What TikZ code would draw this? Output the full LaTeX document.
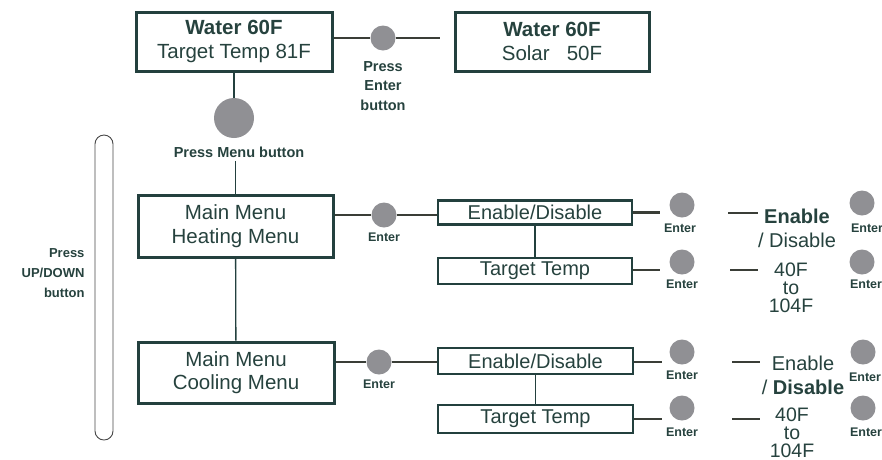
\documentclass[tikz,border=0pt]{standalone}
\usepackage{fontspec}
\setmainfont{Liberation Sans}
\usetikzlibrary{positioning}
\definecolor{boxline}{RGB}{35,64,62}
\definecolor{txtc}{RGB}{38,66,62}
\definecolor{wirec}{RGB}{58,62,55}
\definecolor{btnc}{RGB}{144,144,148}
\definecolor{barc}{RGB}{70,70,70}

\begin{document}
\begin{tikzpicture}[x=1pt, y=-1pt, text=txtc]
\tikzstyle{disp}=[draw=boxline, line width=3pt, align=center, inner sep=0pt,
                  minimum height=59pt, font=\fontsize{20.5}{23.5}\selectfont]
\tikzstyle{menubox}=[draw=boxline, line width=2.8pt, inner sep=0pt,
                     minimum width=194pt, minimum height=24pt, font=\fontsize{20}{23}\selectfont]
\tikzstyle{btn}=[circle, fill=btnc, inner sep=0pt, minimum size=25pt]
\tikzstyle{lbl}=[font=\fontsize{12.5}{15}\selectfont\bfseries]
\tikzstyle{hint}=[align=center, font=\fontsize{14.5}{19.5}\selectfont\bfseries]
\tikzstyle{val}=[align=center, inner sep=0pt, font=\fontsize{20}{24}\selectfont]
\tikzstyle{wire}=[draw=wirec, line width=2.5pt]
\tikzstyle{vline}=[draw=boxline, line width=1.3pt]

\useasboundingbox (0,0) rectangle (882,459);

% top row
\node[disp, minimum width=196pt] (home) at (234,41.5) {\textbf{Water 60F}\\Target Temp 81F};
\node[disp, minimum width=194pt] (solar) at (552,41.5) {\textbf{Water 60F}\\Solar\ \ \ 50F};
\node[btn] (bEnter) at (383,38) {};
\node[hint] (tEnter) at (383,86) {Press\\Enter\\button};
\node[btn, minimum size=40pt] (bMenu) at (234,118) {};
\node[hint] (tMenu) at (239,152) {Press Menu button};

\draw[wire] (home.east |- bEnter) -- (bEnter);
\draw[wire, shorten >=14pt] (bEnter) -- (solar.west |- bEnter);
\draw[vline] (home) -- (bMenu);

% main menus
\node[disp, minimum width=195pt, minimum height=62pt] (heat) at (235.5,226) {Main Menu\\Heating Menu};
\node[disp, minimum width=196pt, minimum height=61pt] (cool) at (236,372.5) {Main Menu\\Cooling Menu};
\draw[vline] (tMenu.south -| heat) -- (heat);
\draw[vline] (heat) -- (cool);

\draw[barc, line width=0.9pt, rounded corners=9pt] (95,135) rectangle (113,440);
\node[align=right, anchor=east, font=\fontsize{13}{20}\selectfont\bfseries] (tUpDown) at (88,273)
  {Press\\UP/DOWN\\button};

% heating branch
\node[menubox] (hEn) at (535,212.5) {Enable/Disable};
\node[menubox, minimum height=26pt] (hTemp) at (535,271) {Target Temp};
\node[btn] (bHeat) at (384,215) {};
\node[lbl] (tHeat) at (384,237) {Enter};
\draw[wire] (heat.east |- bHeat) -- (bHeat) -- (hEn.west |- bHeat);
\draw[vline] (hEn) -- (hTemp);

\coordinate (hEnEnd) at (660,212.5);
\coordinate (hTempEnd) at (660,270);
\draw[wire] (hEn.east) -- (hEnEnd);
\draw[wire] (hTemp.east |- hTempEnd) -- (hTempEnd);
\node[btn] (bhEn) at (682,205) {};
\node[lbl] (thEn) at (680,228) {Enter};
\node[btn] (bhTemp) at (682,262) {};
\node[lbl] (thTemp) at (682,284) {Enter};

\node[val] (hSel) at (797,228) {\textbf{Enable}\\/ Disable};
\node[val, font=\fontsize{19.5}{18}\selectfont] (hRange) at (791,287.5) {40F\\to\\104F};
\coordinate (hSelDash) at (728,213);
\coordinate (hRangeDash) at (730,270);
\draw[wire] (hSelDash) -- (758,213);
\draw[wire] (hRangeDash) -- (758,270);
\node[btn] (bhSel) at (862,203) {};
\node[lbl] (thSel) at (867,228) {Enter};
\node[btn] (bhRange) at (862,262) {};
\node[lbl] (thRange) at (866,284) {Enter};

% cooling branch
\node[menubox, minimum width=195pt, minimum height=26pt] (cEn) at (535.5,361) {Enable/Disable};
\node[menubox, minimum width=195pt, minimum height=28pt] (cTemp) at (535.5,419) {Target Temp};
\node[btn] (bCool) at (379,362) {};
\node[lbl] (tCool) at (379,384) {Enter};
\draw[wire] (cool.east |- bCool) -- (bCool) -- (cEn.west |- bCool);
\draw[vline] (cEn) -- (cTemp);

\coordinate (cEnEnd) at (662,362);
\coordinate (cTempEnd) at (662,419);
\draw[wire] (cEn.east |- cEnEnd) -- (cEnEnd);
\draw[wire] (cTemp.east |- cTempEnd) -- (cTempEnd);
\node[btn] (bcEn) at (682,352) {};
\node[lbl] (tcEn) at (682,375) {Enter};
\node[btn] (bcTemp) at (682,408) {};
\node[lbl] (tcTemp) at (682,432) {Enter};

\node[val] (cSel) at (803,375) {Enable\\/ \textbf{Disable}};
\node[val, font=\fontsize{19.5}{18}\selectfont] (cRange) at (792,433) {40F\\to\\104F};
\coordinate (cSelDash) at (732,362);
\coordinate (cRangeDash) at (732,419);
\draw[wire] (cSelDash) -- (760,362);
\draw[wire] (cRangeDash) -- (760,419);
\node[btn] (bcSel) at (863,352) {};
\node[lbl] (tcSel) at (865,377) {Enter};
\node[btn] (bcRange) at (863,408) {};
\node[lbl] (tcRange) at (866,432) {Enter};
\end{tikzpicture}
\end{document}
